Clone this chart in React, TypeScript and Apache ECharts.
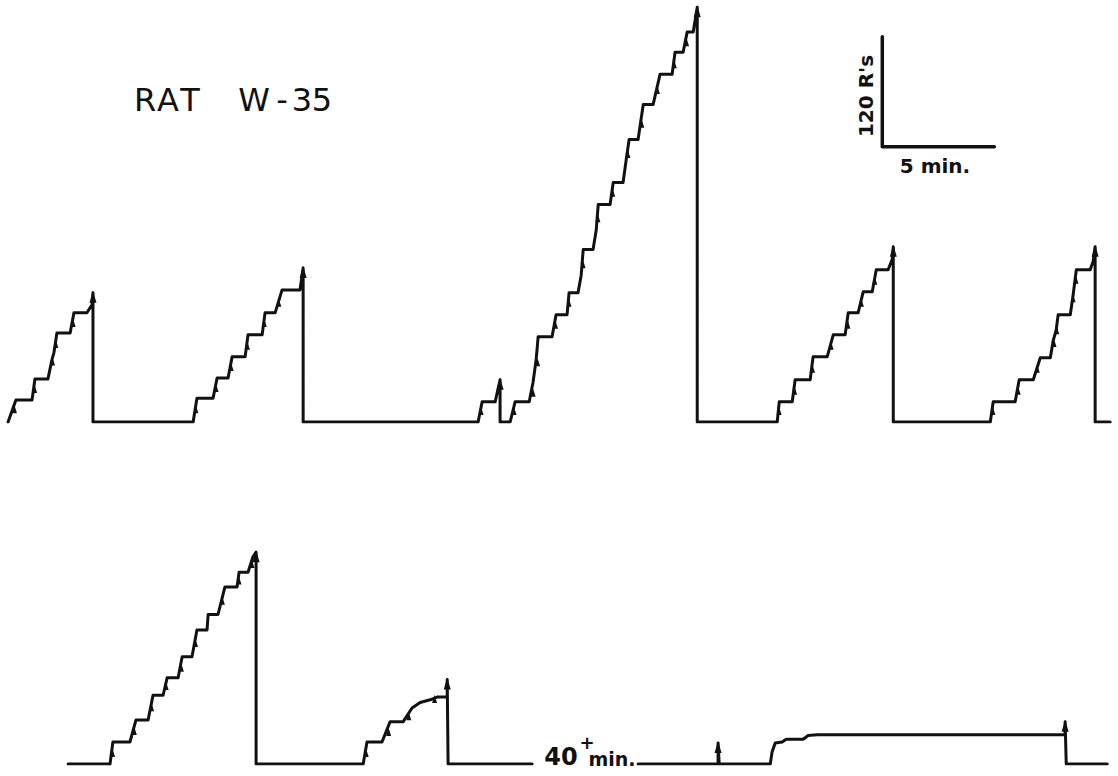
import React, { useEffect, useRef } from "react";
import * as echarts from "echarts";

// Cumulative record, RAT W-35. x: minutes of recording, y: cumulative responses.
const topRecord: [number, number][] = [
  [0.36, 0], [0.71, 24], [1.43, 24], [1.56, 47], [2.14, 47], [2.32, 68], [2.41, 76], [2.54, 97],
  [3.13, 97], [3.30, 119], [3.88, 119], [4.11, 128], [4.15, 141], [4.15, 0],
  [8.62, 0], [8.79, 26], [9.51, 26], [9.69, 48], [10.18, 48], [10.36, 71], [10.94, 71], [11.07, 95],
  [11.70, 95], [11.83, 119], [12.28, 119], [12.59, 144], [13.39, 144], [13.53, 168], [13.53, 0],
  [21.34, 0], [21.52, 22], [22.10, 22], [22.32, 46], [22.32, 0], [22.77, 0],
  [22.99, 22], [23.62, 22], [23.79, 43], [23.93, 68], [24.02, 93], [24.64, 93], [24.82, 117],
  [25.31, 117], [25.40, 141], [25.80, 141], [25.94, 160], [26.03, 188], [26.47, 188], [26.61, 209],
  [26.70, 237], [27.23, 237], [27.37, 261], [27.81, 261], [27.95, 286], [28.08, 308], [28.48, 308],
  [28.71, 346], [29.15, 346], [29.46, 379], [30.00, 379], [30.13, 403], [30.49, 403], [30.67, 425],
  [30.94, 425], [31.12, 452], [31.12, 0],
  [34.69, 0], [34.78, 22], [35.36, 22], [35.49, 46], [36.16, 46], [36.29, 71], [36.92, 71], [37.19, 95],
  [37.72, 95], [37.86, 119], [38.30, 119], [38.53, 142], [38.93, 142], [39.11, 166], [39.64, 166],
  [39.82, 177], [39.87, 191], [39.87, 0],
  [44.20, 0], [44.33, 22], [45.31, 22], [45.49, 46], [46.12, 46], [46.43, 70], [46.88, 70], [47.01, 89],
  [47.14, 100], [47.23, 117], [47.77, 117], [47.90, 139], [48.04, 166], [48.66, 166], [48.79, 175],
  [48.88, 191], [48.88, 0], [49.55, 0],
];

const bottomRecordBefore: [number, number][] = [
  [3.04, 0], [4.91, 0], [5.04, 24], [5.80, 24], [6.07, 48], [6.61, 48], [6.83, 75], [7.28, 75],
  [7.46, 94], [7.95, 94], [8.13, 117], [8.57, 117], [8.79, 146], [9.24, 146], [9.29, 163], [9.73, 163],
  [10.04, 193], [10.58, 193], [10.67, 209], [11.07, 209], [11.29, 226], [11.43, 231], [11.43, 0],
  [16.21, 0], [16.38, 24], [17.05, 24], [17.41, 46], [17.99, 46], [18.39, 61], [18.75, 67],
  [19.20, 70], [19.51, 73], [19.96, 73], [19.96, 92], [20.00, 0], [23.75, 0],
];

const bottomRecordAfter: [number, number][] = [
  [28.48, 0], [32.05, 0], [32.05, 23], [32.10, 0], [34.38, 0], [34.46, 13], [34.60, 23], [34.91, 24],
  [35.09, 27], [35.85, 27], [36.07, 31], [36.47, 32], [47.54, 32], [47.54, 46], [47.59, 0], [49.42, 0],
];

// reinforcement arrowheads at the resets
const topPeaks: [number, number][] = [
  [4.15, 141], [13.53, 168], [22.32, 46], [31.12, 452], [39.87, 191], [48.88, 191],
];
const bottomPeaks: [number, number][] = [[11.43, 231], [19.96, 92], [32.05, 23], [47.54, 46]];

// small pips along the rising steps
const topPips: [number, number][] = [
  [0.6, 14], [1.5, 36], [2.3, 66], [2.45, 85], [3.22, 108],
  [8.7, 14], [9.6, 37], [10.27, 60], [11.0, 83], [11.75, 108], [12.4, 130],
  [21.43, 12],
  [22.9, 12], [23.75, 32], [23.95, 65], [24.75, 106], [25.35, 130], [25.98, 172], [26.64, 222],
  [27.3, 250], [27.98, 292], [28.6, 325], [29.3, 362], [30.05, 390], [30.6, 414],
  [34.73, 12], [35.42, 34], [36.22, 58], [37.05, 83], [37.8, 106], [38.4, 130], [39.0, 154],
  [44.27, 12], [45.4, 34], [46.25, 58], [47.0, 86], [47.12, 100], [47.85, 135], [47.98, 155],
];
const bottomPips: [number, number][] = [
  [4.98, 12], [5.95, 36], [6.72, 62], [7.37, 85], [8.05, 105], [8.68, 132], [9.88, 178],
  [10.62, 200], [11.2, 218], [16.3, 12], [17.3, 35], [18.2, 52], [19.35, 71],
];

// calibration: 120 responses vertical, 5 minutes horizontal
const scaleBar: [number, number][] = [[39.38, 420], [39.38, 300], [44.38, 300]];

const INK = "#111";

export default function App() {
  const ref = useRef<HTMLDivElement>(null);
  useEffect(() => {
    if (!ref.current) return;
    const chart = echarts.init(ref.current, undefined, { renderer: "svg" });
    const line = (data: [number, number][], idx: number, width = 3) => ({
      type: "line",
      xAxisIndex: idx,
      yAxisIndex: idx,
      data,
      symbol: "none",
      silent: true,
      lineStyle: { color: INK, width, cap: "round", join: "round" },
    });
    const marks = (data: [number, number][], idx: number, size: number[], offset: number[]) => ({
      type: "scatter",
      xAxisIndex: idx,
      yAxisIndex: idx,
      data,
      symbol: "triangle",
      symbolSize: size,
      symbolOffset: offset,
      silent: true,
      itemStyle: { color: INK, opacity: 1 },
    });
    const txt = (text: string, x: number, y: number, size: number, weight: string, extra: any = {}) => ({
      type: "text",
      x,
      y,
      ...extra,
      style: {
        text,
        fill: INK,
        fontSize: size,
        fontWeight: weight,
        fontFamily: "DejaVu Sans",
        align: "center",
        verticalAlign: "middle",
        textAlign: "center",
        textVerticalAlign: "middle",
      },
    });
    const letters = [
      ["R", 145], ["A", 168], ["T", 190], ["W", 254], ["-", 282], ["3", 302], ["5", 322],
    ] as [string, number][];
    chart.setOption({
      animation: false,
      backgroundColor: "#fff",
      grid: [
        { left: 0, right: 0, top: 0, bottom: 354 },
        { left: 0, right: 0, top: 443, bottom: 12 },
      ],
      xAxis: [
        { type: "value", gridIndex: 0, min: 0, max: 49.9, show: false },
        { type: "value", gridIndex: 1, min: 0, max: 49.9, show: false },
      ],
      yAxis: [
        { type: "value", gridIndex: 0, min: 0, max: 460, show: false },
        { type: "value", gridIndex: 1, min: 0, max: 350, show: false },
      ],
      series: [
        line(topRecord, 0, 3),
        line(bottomRecordBefore, 1, 3),
        line(bottomRecordAfter, 1, 3),
        line(scaleBar, 0, 3.5),
        marks(topPeaks, 0, [7, 12], [0, 4]),
        marks(bottomPeaks, 1, [7, 12], [0, 4]),
        marks(topPips, 0, [5, 8], [1, 0]),
        marks(bottomPips, 1, [5, 8], [1, 0]),
      ],
      graphic: [
        ...letters.map(([c, x]) => txt(c, x, 100, 32, "normal")),
        txt("120 R's", 866, 96, 20, "bold", { rotation: Math.PI / 2 }),
        txt("5 min.", 935, 166, 20, "bold"),
        txt("40", 561, 757, 24, "bold"),
        txt("+", 587, 742, 18, "bold"),
        txt("min.", 612, 759, 19, "bold"),
      ],
    });
    return () => chart.dispose();
  }, []);
  return (
    <div
      ref={ref}
      style={{ position: "absolute", left: 0, top: 0, width: 1118, height: 776 }}
    />
  );
}
